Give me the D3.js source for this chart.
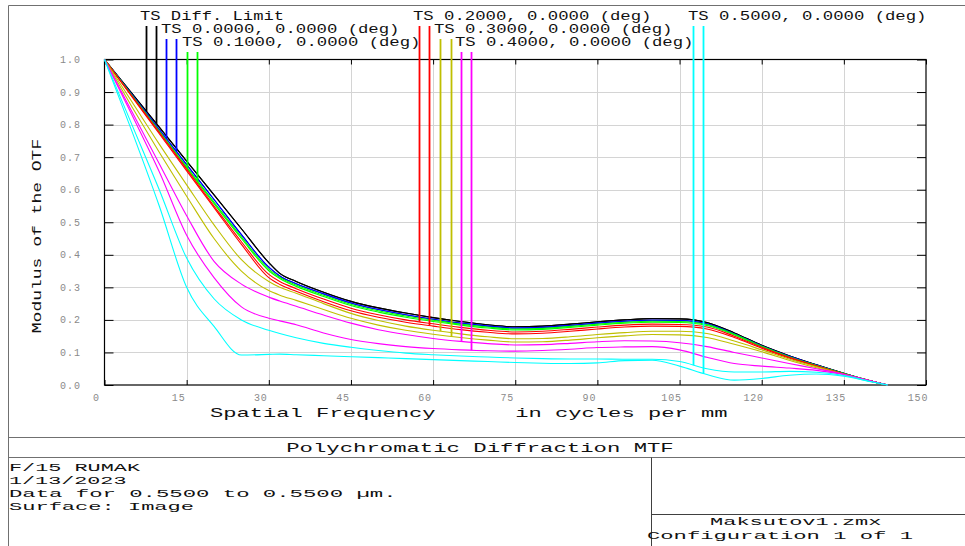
<!DOCTYPE html>
<html><head><meta charset="utf-8">
<script src="https://cdn.jsdelivr.net/npm/d3@7"></script>
<style>
body{margin:0;background:#fff}
text{font-family:"Liberation Mono","DejaVu Sans Mono",monospace}
</style>
</head><body>
<svg id="c" width="965" height="546"></svg>
<script>
// ---------- data ----------
const freq = [0,5,10,15,20,25,30,32,35,40,45,50,55,60,65,70,75,80,85,90,95,100,105,110,115,120,125,130,135,140,143];
const diffT = [1.000,0.896,0.792,0.688,0.584,0.480,0.376,0.343,0.318,0.285,0.257,0.237,0.221,0.207,0.195,0.185,0.179,0.181,0.187,0.194,0.200,0.204,0.203,0.192,0.160,0.122,0.090,0.062,0.036,0.012,0.000];
const diffS = [1.000,0.896,0.792,0.688,0.584,0.480,0.376,0.343,0.318,0.285,0.257,0.237,0.221,0.207,0.195,0.185,0.179,0.181,0.187,0.194,0.200,0.204,0.203,0.192,0.160,0.122,0.090,0.062,0.036,0.012,0.000];
const f0T = [1.000,0.892,0.785,0.677,0.570,0.462,0.362,0.335,0.311,0.280,0.252,0.232,0.216,0.202,0.190,0.181,0.175,0.177,0.183,0.190,0.196,0.199,0.198,0.188,0.157,0.120,0.088,0.061,0.035,0.012,0.000];
const f0S = [1.000,0.892,0.785,0.677,0.570,0.462,0.362,0.335,0.311,0.280,0.252,0.232,0.216,0.202,0.190,0.181,0.175,0.177,0.183,0.190,0.196,0.199,0.198,0.188,0.157,0.120,0.088,0.061,0.035,0.012,0.000];
const f1T = [1.000,0.890,0.780,0.670,0.562,0.455,0.356,0.331,0.307,0.276,0.248,0.228,0.212,0.199,0.187,0.178,0.172,0.174,0.180,0.187,0.193,0.196,0.195,0.186,0.156,0.119,0.087,0.060,0.035,0.012,0.000];
const f1S = [1.000,0.889,0.778,0.667,0.557,0.450,0.351,0.327,0.303,0.272,0.244,0.224,0.208,0.195,0.184,0.175,0.169,0.171,0.177,0.184,0.190,0.193,0.192,0.183,0.154,0.118,0.086,0.060,0.035,0.012,0.000];
const f2T = [1.000,0.888,0.776,0.663,0.550,0.440,0.340,0.318,0.296,0.264,0.236,0.216,0.200,0.188,0.177,0.168,0.163,0.165,0.171,0.178,0.184,0.187,0.186,0.178,0.150,0.116,0.085,0.059,0.034,0.012,0.000];
const f2S = [1.000,0.886,0.772,0.658,0.545,0.432,0.330,0.309,0.288,0.256,0.228,0.208,0.193,0.181,0.170,0.162,0.157,0.159,0.165,0.172,0.178,0.181,0.180,0.172,0.146,0.113,0.083,0.058,0.034,0.012,0.000];
const f3T = [1.000,0.870,0.740,0.615,0.492,0.385,0.318,0.300,0.282,0.250,0.220,0.198,0.181,0.168,0.157,0.148,0.142,0.143,0.148,0.155,0.161,0.165,0.165,0.158,0.135,0.108,0.080,0.056,0.033,0.011,0.000];
const f3S = [1.000,0.855,0.715,0.580,0.450,0.350,0.290,0.276,0.260,0.232,0.205,0.184,0.168,0.156,0.146,0.138,0.132,0.133,0.138,0.145,0.151,0.155,0.154,0.146,0.125,0.102,0.076,0.053,0.032,0.011,0.000];
const f4T = [1.000,0.840,0.680,0.520,0.380,0.310,0.270,0.258,0.242,0.215,0.190,0.170,0.155,0.143,0.134,0.127,0.123,0.124,0.128,0.133,0.136,0.135,0.130,0.118,0.100,0.083,0.066,0.050,0.033,0.012,0.000];
const f4S = [1.000,0.830,0.655,0.460,0.330,0.240,0.205,0.197,0.185,0.160,0.140,0.127,0.118,0.112,0.108,0.105,0.104,0.106,0.110,0.115,0.117,0.118,0.108,0.085,0.066,0.058,0.052,0.045,0.032,0.012,0.000];
const f5T = [1.000,0.800,0.600,0.390,0.265,0.200,0.168,0.158,0.145,0.128,0.116,0.106,0.098,0.093,0.089,0.086,0.083,0.081,0.080,0.080,0.079,0.079,0.072,0.050,0.040,0.040,0.042,0.039,0.029,0.010,0.000];
const f5S = [1.000,0.780,0.550,0.300,0.180,0.092,0.094,0.095,0.093,0.090,0.087,0.084,0.081,0.078,0.075,0.072,0.069,0.067,0.066,0.068,0.075,0.076,0.058,0.032,0.015,0.020,0.030,0.034,0.027,0.010,0.000];

const xTicks = [0,15,30,45,60,75,90,105,120,135,150];
const yTicks = [0,0.1,0.2,0.3,0.4,0.5,0.6,0.7,0.8,0.9,1.0];
const legendLabels = ["TS Diff. Limit","TS 0.0000, 0.0000 (deg)","TS 0.1000, 0.0000 (deg)","TS 0.2000, 0.0000 (deg)","TS 0.3000, 0.0000 (deg)","TS 0.4000, 0.0000 (deg)","TS 0.5000, 0.0000 (deg)"];
const seriesT = [diffT,f0T,f1T,f2T,f3T,f4T,f5T];
const seriesS = [diffS,f0S,f1S,f2S,f3S,f4S,f5S];
const colors = ["#000000","#0000ff","#00ff00","#ff0000","#bfbf00","#ff00ff","#00ffff"];
const xTitle1 = "Spatial Frequency", xTitle2 = " in cycles per mm";
const yTitle = "Modulus of the OTF";
const chartTitle = "Polychromatic Diffraction MTF";
const infoLines = ["F/15 RUMAK","1/13/2023","Data for 0.5500 to 0.5500 µm.","Surface: Image"];
const fileLines = ["Maksutov1.zmx","Configuration 1 of 1"];

// ---------- layout ----------
const svg = d3.select("#c");
const x = d3.scaleLinear().domain([0,150]).range([104.5,926]);
const y = d3.scaleLinear().domain([0,1]).range([385,59.5]);
const W = 965;
const ADV = 13.5; // character advance of the wide plot font

function wideText(sel, str, fs){
  sel.attr("font-size",fs).attr("textLength",str.length*ADV-4).attr("lengthAdjust","spacingAndGlyphs")
     .attr("fill","#111").text(str);
  return sel;
}

// outer frame
const frame = svg.append("g").attr("stroke","#707070").attr("stroke-width",1).attr("fill","none");
frame.append("line").attr("x1",8.5).attr("x2",W).attr("y1",5.5).attr("y2",5.5);
frame.append("line").attr("x1",8.5).attr("x2",8.5).attr("y1",5.5).attr("y2",546);
frame.append("line").attr("x1",8.5).attr("x2",W).attr("y1",437.5).attr("y2",437.5);
frame.append("line").attr("x1",8.5).attr("x2",W).attr("y1",457.5).attr("y2",457.5);
frame.append("line").attr("x1",651.5).attr("x2",651.5).attr("y1",457.5).attr("y2",546).attr("stroke","#404040");
frame.append("line").attr("x1",651.5).attr("x2",W).attr("y1",514.5).attr("y2",514.5).attr("stroke","#404040");

// grid
const grid = svg.append("g").attr("stroke","#d4d4d4").attr("stroke-width",1);
grid.selectAll("line.v").data(xTicks.slice(1,-1)).join("line")
  .attr("x1",d=>Math.round(x(d))+0.5).attr("x2",d=>Math.round(x(d))+0.5).attr("y1",y(1)).attr("y2",y(0));
grid.selectAll("line.h").data(yTicks.slice(1,-1)).join("line").attr("class","h")
  .attr("y1",d=>Math.round(y(d))+0.5).attr("y2",d=>Math.round(y(d))+0.5).attr("x1",x(0)).attr("x2",x(150));

// axes (ticks inside)
function styleAxis(g){ g.select(".domain").remove(); g.selectAll("line").attr("stroke","#000"); }
svg.append("g").attr("transform",`translate(0,${y(0)})`).call(d3.axisBottom(x).tickValues(xTicks).tickSizeInner(-5).tickSizeOuter(0).tickFormat("")).call(styleAxis);
svg.append("g").attr("transform",`translate(0,${y(1)})`).call(d3.axisTop(x).tickValues(xTicks).tickSizeInner(-5).tickSizeOuter(0).tickFormat("")).call(styleAxis);
svg.append("g").attr("transform",`translate(${x(0)},0)`).call(d3.axisLeft(y).tickValues(yTicks).tickSizeInner(-9).tickSizeOuter(0).tickFormat("")).call(styleAxis);
svg.append("g").attr("transform",`translate(${x(150)},0)`).call(d3.axisRight(y).tickValues(yTicks).tickSizeInner(-9).tickSizeOuter(0).tickFormat("")).call(styleAxis);
svg.append("rect").attr("x",x(0)).attr("y",y(1)).attr("width",x(150)-x(0)).attr("height",y(0)-y(1))
  .attr("fill","none").attr("stroke","#000").attr("stroke-width",1.2);

// tick labels
svg.append("g").selectAll("text").data(xTicks).join("text")
  .attr("x",d=>x(d)-8).attr("y",y(0)+16).attr("text-anchor","middle")
  .attr("font-size",10).attr("letter-spacing",0.8).attr("fill","#8a8a8a").text(d=>d);
svg.append("g").selectAll("text").data(yTicks).join("text")
  .attr("x",81).attr("y",d=>y(d)+3.5).attr("text-anchor","end")
  .attr("font-size",10).attr("letter-spacing",1).attr("fill","#8a8a8a").text(d=>d.toFixed(1));

// curves
const line = d3.line().x((d,i)=>x(freq[i])).y(d=>y(d)).curve(d3.curveMonotoneX);
const curves = svg.append("g").attr("fill","none").attr("stroke-width",1.1);
seriesT.forEach((s,k)=>{
  curves.append("path").attr("d",line(s)).attr("stroke",colors[k]);
  curves.append("path").attr("d",line(seriesS[k])).attr("stroke",colors[k]);
});

// legend
const legendPos = [
  {tx:140,row:0,lx:[146,156]},
  {tx:161,row:1,lx:[166,176]},
  {tx:182,row:2,lx:[187,197]},
  {tx:413,row:0,lx:[419,429]},
  {tx:434,row:1,lx:[440,451]},
  {tx:455,row:2,lx:[461,471]},
  {tx:688,row:0,lx:[693,703]}
];
const rowY = [16,29,42];
function valAt(s,f){
  let i = d3.bisectRight(freq,f)-1; i = Math.max(0,Math.min(i,freq.length-2));
  const t = (f-freq[i])/(freq[i+1]-freq[i]);
  return s[i]+(s[i+1]-s[i])*t;
}
const leg = svg.append("g");
legendLabels.forEach((lab,k)=>{
  const p = legendPos[k];
  leg.append("text").attr("x",p.tx).attr("y",rowY[p.row]+4)
    .attr("font-size",12).attr("textLength",lab.length*10.5-3).attr("lengthAdjust","spacingAndGlyphs")
    .attr("fill","#111").text(lab);
  [seriesT[k],seriesS[k]].forEach((s,j)=>{
    const px = p.lx[j]+0.5;
    leg.append("line").attr("x1",px).attr("x2",px)
      .attr("y1",rowY[p.row]+10).attr("y2",y(valAt(s,x.invert(px))))
      .attr("stroke",colors[k]).attr("stroke-width",1.8);
  });
});

// axis titles
const xt = svg.append("text").attr("y",417).attr("font-size",13).attr("fill","#111");
xt.append("tspan").attr("x",210).attr("textLength",xTitle1.length*ADV-4).attr("lengthAdjust","spacingAndGlyphs").text(xTitle1);
xt.append("tspan").attr("x",502).attr("textLength",xTitle2.length*ADV-4).attr("lengthAdjust","spacingAndGlyphs").text(xTitle2);
svg.append("text").attr("transform","translate(41,236) rotate(-90)").attr("text-anchor","middle")
  .attr("font-size",13).attr("textLength",yTitle.length*10.8).attr("lengthAdjust","spacingAndGlyphs")
  .attr("fill","#111").text(yTitle);

// title block
wideText(svg.append("text").attr("x",480).attr("y",452).attr("text-anchor","middle"), chartTitle, 13);
svg.append("g").selectAll("text").data(infoLines).join("text")
  .attr("x",9).attr("y",(d,i)=>471+i*13)
  .each(function(d){ wideText(d3.select(this), d, 11); });
wideText(svg.append("text").attr("x",710).attr("y",525), fileLines[0], 11);
wideText(svg.append("text").attr("x",647).attr("y",539), fileLines[1], 11);
</script>
</body></html>
